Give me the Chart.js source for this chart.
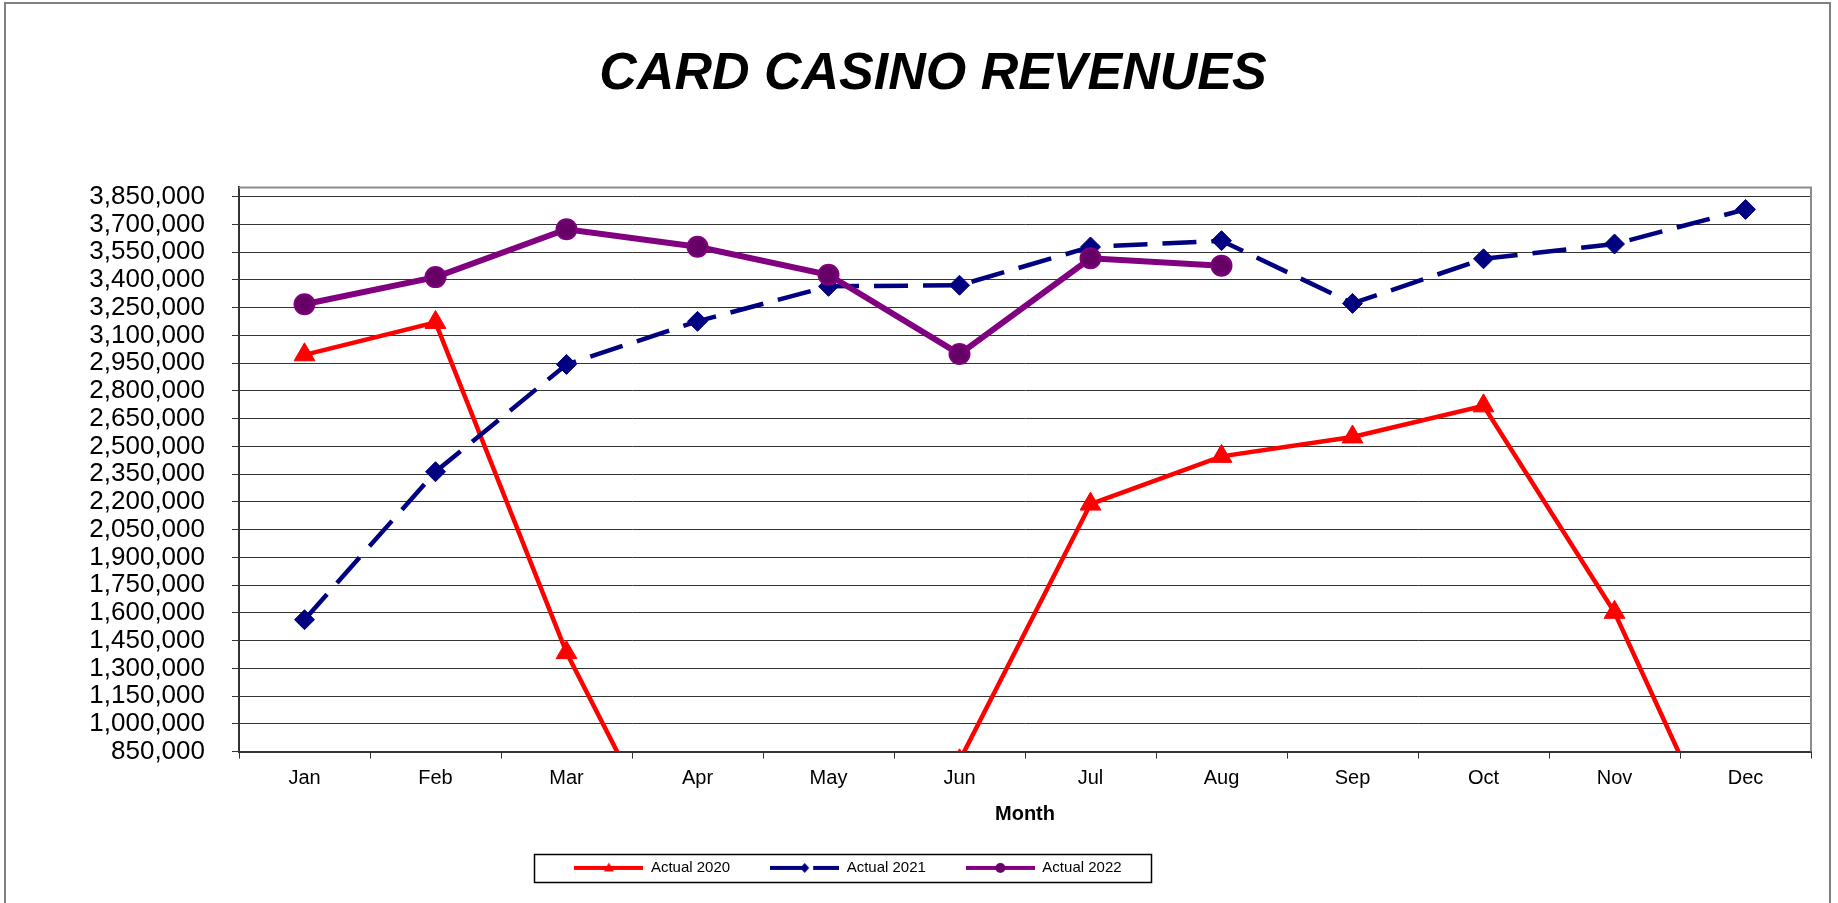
<!DOCTYPE html>
<html>
<head>
<meta charset="utf-8">
<title>Card Casino Revenues</title>
<script src="https://cdn.jsdelivr.net/npm/chart.js"></script>
<style>
  html, body { margin: 0; padding: 0; background: #fff; }
  #marco { width: 1838px; height: 903px; position: relative; }
</style>
</head>
<body>
<div id="marco"><canvas id="GraficoCasino"></canvas></div>
<script>
// DATOS
var meses = ['Jan', 'Feb', 'Mar', 'Apr', 'May', 'Jun', 'Jul', 'Aug', 'Sep', 'Oct', 'Nov', 'Dec'];
var actual2020 = [2995000, 3170000, 1385000, 0, 0, 800000, 2188000, 2446000, 2551000, 2719000, 1603000, 60000];
var actual2021 = [1563000, 2363000, 2943000, 3176000, 3365000, 3371000, 3578000, 3612000, 3273000, 3514000, 3594000, 3781000];
var actual2022 = [3268000, 3415000, 3674000, 3579000, 3428000, 2999000, 3517000, 3477000, null, null, null, null];
var yTicks = [850000, 1000000, 1150000, 1300000, 1450000, 1600000, 1750000, 1900000, 2050000, 2200000,
  2350000, 2500000, 2650000, 2800000, 2950000, 3100000, 3250000, 3400000, 3550000, 3700000, 3850000];
var yMin = 850000;
var yMax = 3900000;

var fuente = '"Liberation Sans", Arial, sans-serif';
Chart.defaults.font.family = fuente;
Chart.defaults.color = '#000';

// iconos de la leyenda (linea + marcador)
function iconoLeyenda(color, dash, marcador, relleno) {
  var c = document.createElement('canvas');
  c.width = 69; c.height = 16;
  var g = c.getContext('2d');
  g.strokeStyle = color;
  g.lineWidth = 4;
  g.setLineDash(dash);
  g.beginPath(); g.moveTo(0, 8); g.lineTo(69, 8); g.stroke();
  g.setLineDash([]);
  g.fillStyle = relleno;
  g.beginPath();
  if (marcador === 'triangle') {
    g.moveTo(34.5, 2.5); g.lineTo(39.5, 11.5); g.lineTo(29.5, 11.5);
  } else if (marcador === 'diamond') {
    g.moveTo(34.5, 3); g.lineTo(39, 8); g.lineTo(34.5, 13); g.lineTo(30, 8);
  } else {
    g.arc(34.5, 8, 5, 0, Math.PI * 2);
  }
  g.closePath(); g.fill();
  return c;
}
var iconos = [
  iconoLeyenda('#FF0000', [], 'triangle', '#FF0000'),
  iconoLeyenda('#000080', [35, 8], 'diamond', '#000080'),
  iconoLeyenda('#800080', [], 'circle', '#660066')
];

var marcos = {
  id: 'marcos',
  beforeDraw: function (chart) {
    var ctx = chart.ctx;
    ctx.save();
    ctx.strokeStyle = '#808080';
    ctx.lineWidth = 2;
    ctx.strokeRect(5, 3, 1825, 940);
    ctx.restore();
  },
  beforeDatasetsDraw: function (chart) {
    var a = chart.chartArea, ctx = chart.ctx;
    ctx.save();
    ctx.strokeStyle = '#8c8c8c';
    ctx.lineWidth = 2;
    ctx.beginPath();
    ctx.moveTo(a.left, a.top); ctx.lineTo(a.right, a.top); ctx.lineTo(a.right, a.bottom);
    ctx.stroke();
    ctx.restore();
  },
  afterLayout: function (chart) {
    // la leyenda de Excel va corrida a la izquierda
    chart.legend.left -= 85;
    chart.legend.right -= 85;
  },
  afterDraw: function (chart) {
    var hb = chart.legend.legendHitBoxes;
    if (!hb || !hb.length) return;
    var ctx = chart.ctx;
    var first = hb[0], last = hb[hb.length - 1];
    var x0 = first.left - 40, x1 = last.left + last.width + 30;
    var yc = first.top + first.height / 2;
    ctx.save();
    ctx.strokeStyle = '#000';
    ctx.lineWidth = 1.5;
    ctx.strokeRect(Math.round(x0) + 0.5, Math.round(yc - 14) + 0.5, Math.round(x1 - x0), 28);
    ctx.restore();
  }
};

var ctx1 = document.getElementById('GraficoCasino').getContext('2d');
var data1 = {
  labels: meses,
  datasets: [{
    label: 'Actual 2020',
    data: actual2020,
    borderColor: '#FF0000',
    backgroundColor: '#FF0000',
    borderWidth: 4.5,
    pointStyle: 'triangle',
    pointRadius: 12,
    pointHoverRadius: 12,
    pointBorderWidth: 1,
    order: 3,
    clip: 0
  }, {
    label: 'Actual 2021',
    data: actual2021,
    borderColor: '#000080',
    backgroundColor: '#000080',
    borderWidth: 4.5,
    borderDash: [34, 15],
    pointStyle: 'rectRot',
    pointRadius: 10,
    pointHoverRadius: 10,
    pointBorderWidth: 1,
    order: 2,
    clip: 0
  }, {
    label: 'Actual 2022',
    data: actual2022,
    borderColor: '#800080',
    backgroundColor: '#660066',
    borderWidth: 6,
    pointStyle: 'circle',
    pointRadius: 10,
    pointHoverRadius: 10,
    pointBorderWidth: 2,
    order: 1,
    clip: 0
  }]
};
var options1 = {
  responsive: true,
  maintainAspectRatio: false,
  animation: false,
  layout: { padding: { left: 55, right: 27, top: 0, bottom: 17.6 } },
  plugins: {
    title: {
      display: true,
      text: 'CARD CASINO REVENUES',
      color: '#000',
      font: { size: 52, weight: 'bold', style: 'italic', lineHeight: 1.2 },
      padding: { top: 43, bottom: 82 }
    },
    legend: {
      position: 'bottom',
      labels: {
        color: '#000',
        font: { size: 15 },
        usePointStyle: true,
        pointStyleWidth: 69,
        boxHeight: 15,
        padding: 40,
        sort: function (a, b) { return a.datasetIndex - b.datasetIndex; },
        generateLabels: function (chart) {
          return Chart.defaults.plugins.legend.labels.generateLabels(chart).map(function (l) {
            l.pointStyle = iconos[l.datasetIndex];
            return l;
          });
        }
      }
    },
    tooltip: { enabled: false }
  },
  scales: {
    x: {
      offset: true,
      grid: { display: true, drawOnChartArea: false, offset: true, tickLength: 7, color: '#333' },
      border: { color: '#333', width: 2 },
      ticks: { color: '#000', font: { size: 20 }, padding: 8, maxRotation: 0, autoSkip: false },
      title: {
        display: true,
        text: 'Month',
        color: '#000',
        font: { size: 20, weight: 'bold', lineHeight: 0.64 },
        padding: { top: 9, bottom: 0 }
      }
    },
    y: {
      min: yMin,
      max: yMax,
      afterBuildTicks: function (scale) {
        scale.ticks = yTicks.map(function (v) { return { value: v }; });
      },
      afterFit: function (scale) { scale.width = 184; },
      grid: { color: '#333', tickLength: 7, lineWidth: 1 },
      border: { color: '#333', width: 2 },
      ticks: {
        color: '#000',
        font: { size: 26, lineHeight: 1 },
        padding: 27,
        autoSkip: false,
        callback: function (v) { return Number(v).toLocaleString('en-US'); }
      }
    }
  }
};
var GraficoCasino = new Chart(ctx1, {
  type: 'line',
  data: data1,
  options: options1,
  plugins: [marcos]
});
</script>
</body>
</html>
